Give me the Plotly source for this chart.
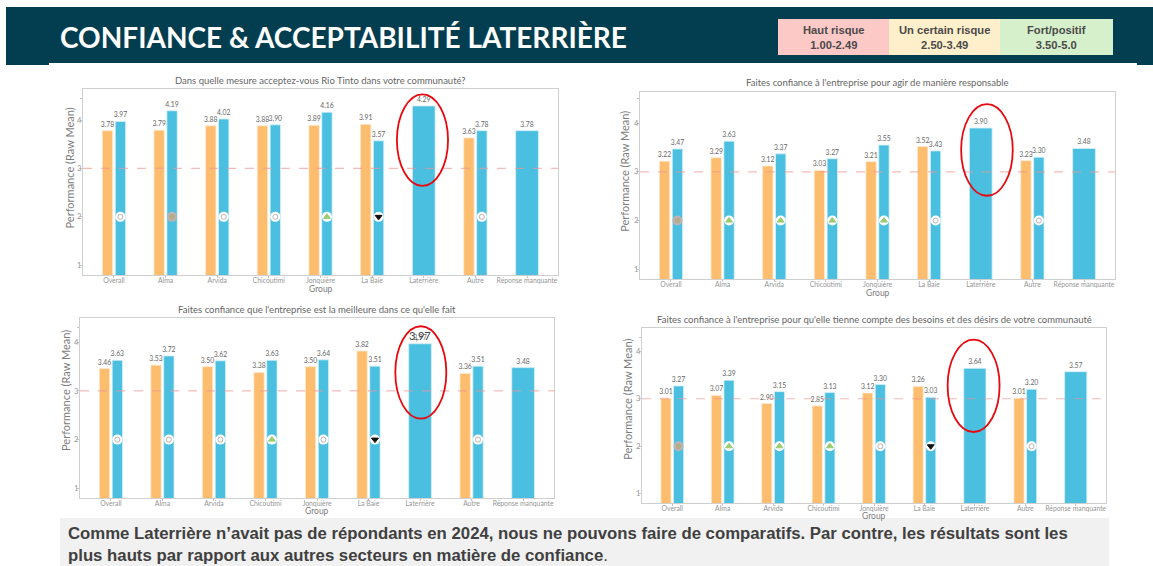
import plotly.graph_objects as go

groups = ["Overall", "Alma", "Arvida", "Chicoutimi", "Jonquière", "La Baie", "Laterrière", "Autre", "Réponse manquante"]

titles = [
    "Dans quelle mesure acceptez-vous Rio Tinto dans votre communauté?",
    "Faites confiance à l'entreprise pour agir de manière responsable",
    "Faites confiance que l'entreprise est la meilleure dans ce qu'elle fait",
    "Faites confiance à l'entreprise pour qu'elle tienne compte des besoins et des désirs de votre communauté",
]

orange_1 = [3.78, 3.79, 3.88, 3.88, 3.89, 3.91, None, 3.63, None]
blue_1 = [3.97, 4.19, 4.02, 3.90, 4.16, 3.57, 4.29, 3.78, 3.78]
status_1 = ["same", "grey", "same", "same", "up", "down", None, "same", None]

orange_2 = [3.22, 3.29, 3.12, 3.03, 3.21, 3.52, None, 3.23, None]
blue_2 = [3.47, 3.63, 3.37, 3.27, 3.55, 3.43, 3.90, 3.30, 3.48]
status_2 = ["grey", "up", "up", "up", "up", "same", None, "same", None]

orange_3 = [3.46, 3.53, 3.50, 3.38, 3.50, 3.82, None, 3.36, None]
blue_3 = [3.63, 3.72, 3.62, 3.63, 3.64, 3.51, 3.97, 3.51, 3.48]
status_3 = ["same", "same", "same", "up", "same", "down", None, "same", None]

orange_4 = [3.01, 3.07, 2.90, 2.85, 3.12, 3.26, None, 3.01, None]
blue_4 = [3.27, 3.39, 3.15, 3.13, 3.30, 3.03, 3.64, 3.20, 3.57]
status_4 = ["grey", "up", "up", "up", "same", "down", None, "same", None]

oranges = [orange_1, orange_2, orange_3, orange_4]
blues = [blue_1, blue_2, blue_3, blue_4]
statuses = [status_1, status_2, status_3, status_4]

W, H = 1153, 566
# plot frames in pixels: left, right, top, bottom
frames = [(83, 558, 89, 275), (640, 1115, 92, 279), (80, 554, 318, 498), (642, 1106, 328, 503)]
yranges = [(0.80, 4.64), (0.80, 4.64), (0.80, 4.50), (0.805, 4.49)]
top_ticks = [4.45, 4.5, 4.3, 4.3]
# highlight ellipses: x0, x1, y0, y1 in data units
ellipses = [(5.48, 6.47, 2.64, 4.53), (5.62, 6.62, 2.51, 4.39), (5.52, 6.51, 2.43, 4.33), (5.46, 6.49, 2.30, 4.245)]
ytitle_x = [69, 625, 66, 628]
xtitle_y = [288.5, 293, 511, 515.5]

ORANGE = "#fdbd6e"
BLUE = "#4abfe0"
GREY = "#7d7d7d"
FONT = "Lato"

fig = go.Figure()
layout = {}
shapes = []
annotations = []

for k in range(4):
    n = "" if k == 0 else str(k + 1)
    xa, ya = "x" + n, "y" + n
    l, r, t, b = frames[k]
    layout["xaxis" + n] = dict(
        domain=[l / W, r / W], range=[-0.6, 8.6], anchor=ya, tickmode="array",
        tickvals=list(range(9)), ticktext=groups, ticks="outside", ticklen=2, tickcolor="#c4c4c4",
        tickfont=dict(family=FONT, size=6.8, color="#969696"), showgrid=False, zeroline=False,
        showline=True, mirror=True, linecolor="#cfcfcf", linewidth=1.2, ticklabelstandoff=-3,
    )
    layout["yaxis" + n] = dict(
        domain=[1 - b / H, 1 - t / H], range=list(yranges[k]), anchor=xa, tickmode="array",
        tickvals=[1, 2, 3, 4, top_ticks[k]], ticktext=["1", "2", "3", "4", ""],
        ticks="outside", ticklen=2, tickcolor="#c4c4c4", tickfont=dict(family=FONT, size=7.5, color="#969696"),
        showgrid=False, zeroline=False, showline=True, mirror=True, linecolor="#cfcfcf", linewidth=1.2,
        ticklabelstandoff=-3,
    )
    idx = list(range(9))
    fmt = lambda vals: [("" if v is None else f"{v:.2f}") for v in vals]
    fig.add_trace(go.Bar(
        x=idx, y=oranges[k], xaxis=xa, yaxis=ya, width=0.2, offset=-0.225,
        marker=dict(color=ORANGE, line=dict(color="#ffe9cf", width=0.8)), text=fmt(oranges[k]),
        textposition="outside", constraintext="none", cliponaxis=False,
        textfont=dict(family=FONT, size=6.8, color="#666666"), showlegend=False,
    ))
    single = [oranges[k][i] is None for i in idx]
    fig.add_trace(go.Bar(
        x=idx, y=blues[k], xaxis=xa, yaxis=ya,
        width=[0.44 if s else 0.2 for s in single],
        offset=[-0.22 if s else 0.025 for s in single],
        marker=dict(color=BLUE, line=dict(color="#d3f0f8", width=0.8)), text=fmt(blues[k]),
        textposition="outside", constraintext="none", cliponaxis=False,
        textfont=dict(family=FONT, size=6.8, color="#666666"), showlegend=False,
    ))
    styles = {
        "same": dict(bg="#ffffff", sym="circle-open", col="#b5b5b5", size=5),
        "grey": dict(bg="#bdb3b5", sym="circle", col="#b3ad8c", size=5),
        "up": dict(bg="#ffffff", sym="triangle-up", col="#9ccb72", size=6),
        "down": dict(bg="#ffffff", sym="triangle-down", col="#111111", size=6),
    }
    for key, st in styles.items():
        xs = [i + 0.125 for i in idx if statuses[k][i] == key]
        if not xs:
            continue
        ys = [2] * len(xs)
        fig.add_trace(go.Scatter(x=xs, y=ys, xaxis=xa, yaxis=ya, mode="markers", showlegend=False,
                                 marker=dict(symbol="circle", size=10, color=st["bg"], line=dict(width=0))))
        fig.add_trace(go.Scatter(x=xs, y=ys, xaxis=xa, yaxis=ya, mode="markers", showlegend=False,
                                 marker=dict(symbol=st["sym"], size=st["size"], color=st["col"],
                                             line=dict(width=1, color=st["col"]))))
    shapes.append(dict(type="line", xref=xa + " domain", yref=ya, x0=0, x1=1, y0=3, y1=3, layer="above",
                       line=dict(color="rgba(240,150,150,0.65)", width=1.2, dash="dash")))
    x0, x1, y0, y1 = ellipses[k]
    shapes.append(dict(type="circle", xref=xa, yref=ya, x0=x0, x1=x1, y0=y0, y1=y1, layer="above",
                       line=dict(color="#e8090f", width=1.8)))
    annotations.append(dict(text=titles[k], xref="paper", yref="paper", x=(l + r) / 2 / W, y=1 - (t - 9) / H,
                            showarrow=False, xanchor="center", yanchor="middle",
                            font=dict(family=FONT, size=9.5, color="#666666")))
    annotations.append(dict(text="Performance (Raw Mean)", xref="paper", yref=ya, x=ytitle_x[k] / W, y=3,
                            textangle=-90, showarrow=False, xanchor="center", yanchor="middle",
                            font=dict(family=FONT, size=11, color=GREY)))
    annotations.append(dict(text="Group", xref="paper", yref="paper", x=(l + r) / 2 / W, y=1 - xtitle_y[k] / H,
                            showarrow=False, xanchor="center", yanchor="middle",
                            font=dict(family=FONT, size=8.5, color=GREY)))

annotations.append(dict(text="3,97", xref="x3", yref="y3", x=6, y=4.14, showarrow=False,
                        xanchor="center", yanchor="middle", font=dict(family=FONT, size=11, color="#444444")))

# header band
shapes.append(dict(type="rect", xref="paper", yref="paper", x0=6 / W, x1=1, y0=1 - 65 / H, y1=1 - 7 / H,
                   fillcolor="#023e50", line=dict(width=0), layer="below"))
shapes.append(dict(type="rect", xref="paper", yref="paper", x0=49 / W, x1=1137 / W, y0=1 - 65 / H, y1=1 - 63 / H,
                   fillcolor="#ffffff", line=dict(width=0), layer="below"))
annotations.append(dict(text="<b>CONFIANCE &amp; ACCEPTABILITÉ LATERRIÈRE</b>", xref="paper", yref="paper",
                        x=58 / W, y=1 - 37 / H, xanchor="left", yanchor="middle", showarrow=False,
                        font=dict(family=FONT, size=28, color="#ffffff")))

# risk legend
risk_labels = [("Haut risque", "1.00-2.49"), ("Un certain risque", "2.50-3.49"), ("Fort/positif", "3.50-5.0")]
risk_colors = ["#fdc9c7", "#fff0cb", "#d6f0cc"]
risk_edges = [778, 889, 1000, 1113]
for i in range(3):
    shapes.append(dict(type="rect", xref="paper", yref="paper", x0=risk_edges[i] / W, x1=risk_edges[i + 1] / W,
                       y0=1 - 55 / H, y1=1 - 19 / H, fillcolor=risk_colors[i], line=dict(width=0), layer="below"))
    annotations.append(dict(text=f"<b>{risk_labels[i][0]}<br>{risk_labels[i][1]}</b>", xref="paper", yref="paper",
                            x=(risk_edges[i] + risk_edges[i + 1]) / 2 / W, y=1 - 37 / H, showarrow=False,
                            xanchor="center", yanchor="middle",
                            font=dict(family="Liberation Sans", size=11.2, color="#4a4a4a")))

# comment box
shapes.append(dict(type="rect", xref="paper", yref="paper", x0=60 / W, x1=1109 / W, y0=0, y1=1 - 518 / H,
                   fillcolor="#f1f1f1", line=dict(width=0), layer="above"))
annotations.append(dict(
    text="<b>Comme Laterrière n’avait pas de répondants en 2024, nous ne pouvons faire de comparatifs. Par contre, les résultats sont les<br>plus hauts par rapport aux autres secteurs en matière de confiance</b>.",
    xref="paper", yref="paper", x=66 / W, y=1 - 544 / H, xanchor="left", yanchor="middle", align="left",
    showarrow=False, font=dict(family="Liberation Sans", size=16.75, color="#404040")))

fig.update_layout(width=W, height=H, margin=dict(l=0, r=0, t=0, b=0), paper_bgcolor="#ffffff",
                  plot_bgcolor="#ffffff", barmode="overlay", shapes=shapes, annotations=annotations,
                  showlegend=False, **layout)
fig.write_html("out.html", config={"displayModeBar": False}, post_script="document.body.style.margin='0';")
